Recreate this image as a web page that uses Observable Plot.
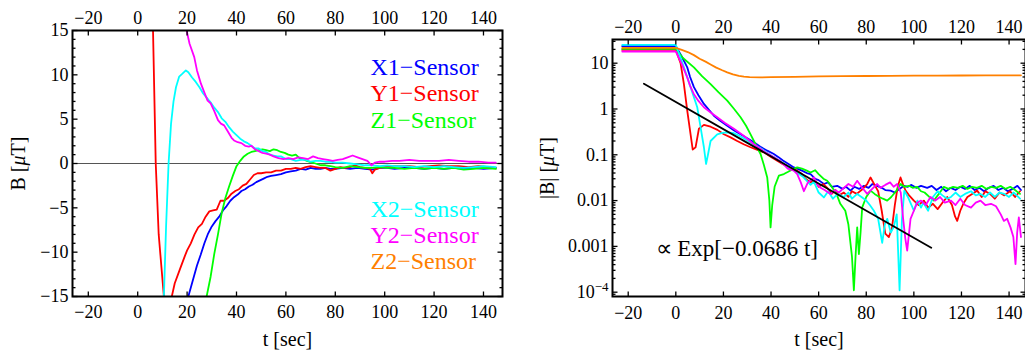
<!DOCTYPE html>
<html><head><meta charset="utf-8">
<script src="https://cdn.jsdelivr.net/npm/d3@7"></script>
<script src="https://cdn.jsdelivr.net/npm/@observablehq/plot@0.6"></script>
<style>
body{margin:0;background:#fff;}
#wrap{display:flex;width:1025px;height:352px;overflow:hidden;}
#wrap svg{display:block;flex:none;}
</style></head><body><div id="wrap"></div>
<script>
// ---------- categories / labels ----------
const sensors = ["X1−Sensor","Y1−Sensor","Z1−Sensor","X2−Sensor","Y2−Sensor","Z2−Sensor"];
const sensorColors = ["#0000ff","#ff0000","#00ff00","#00ffff","#ff00ff","#ff8000"];
const xTicks = [-20,0,20,40,60,80,100,120,140];
const bTicks = [-15,-10,-5,0,5,10,15];
const bMinorTicks = [-14,-13,-12,-11,-9,-8,-7,-6,-4,-3,-2,-1,1,2,3,4,6,7,8,9,11,12,13,14];
const absTicks = [0.0001,0.001,0.01,0.1,1,10];
const absTickLabels = ["10^-4","0.001","0.01","0.1","1","10"];
const absMinorTicks = [0.00009,0.0002,0.0003,0.0004,0.0005,0.0006,0.0007,0.0008,0.0009,
  0.002,0.003,0.004,0.005,0.006,0.007,0.008,0.009,0.02,0.03,0.04,0.05,0.06,0.07,0.08,0.09,
  0.2,0.3,0.4,0.5,0.6,0.7,0.8,0.9,2,3,4,5,6,7,8,9,20,30];
const fitLabel = "∝ Exp[−0.0686 t]";

// ---------- left panel: B [μT] vs t ----------
const leftX1 = [[-22.5,-23.5],[0,-23.5],[5,-22],[10,-21],[15,-19],[20,-15.5],[21,-14.5],[22.5,-13],[24,-11.5],[25.5,-10.3],[27,-9],[28.5,-7.9],[30,-7.1],[31.5,-6.5],[33,-6],[34.5,-5.3],[36,-4.8],[37.5,-4.2],[39,-3.8],[40.5,-3.5],[42,-3.1],[43.5,-2.9],[45,-2.6],[46.5,-2.4],[48,-2.1],[49.5,-1.9],[51,-1.7],[52.5,-1.5],[54,-1.4],[56,-1.3],[58,-1.2],[60,-1.0],[62,-0.9],[64,-0.8],[66,-0.6],[68,-0.7],[70,-0.5],[72,-0.6],[74,-0.6],[76,-0.5],[78,-0.6],[80,-0.6],[83,-0.5],[86,-0.6],[89,-0.5],[92,-0.6],[95,-0.7],[98,-0.5],[101,-0.5],[104,-0.6],[108,-0.5],[112,-0.5],[116,-0.6],[120,-0.5],[124,-0.6],[128,-0.5],[132,-0.6],[136,-0.5],[140,-0.6],[145,-0.5]];
const leftY1 = [[-22.5,19.5],[0,19.5],[4,19],[5.5,17],[6.2,15],[7.3,0],[8.5,-8],[10.6,-15],[11.8,-17.5],[12.8,-17],[13.8,-15],[15,-13.5],[17,-12],[19,-10.5],[20,-9.8],[21.5,-9],[23,-8],[24.5,-7.2],[26,-6.8],[27.5,-6],[29,-5.4],[30.5,-5.3],[32,-5.2],[33.5,-4.2],[35,-4.2],[36.5,-3.9],[38,-3.4],[39.5,-3.1],[41,-2.9],[42.5,-2.5],[44,-2.3],[45.5,-1.8],[47,-1.3],[48.5,-1.1],[50,-1.1],[52,-1.0],[54,-1.0],[56,-0.8],[58,-0.8],[60,-0.6],[62,-0.6],[64,-0.5],[66,-0.6],[68,-0.4],[70,-0.3],[72,-0.4],[74,-0.5],[76,-0.5],[78,-0.8],[80,-0.6],[82,-0.4],[84,-0.5],[86,-0.4],[88,-0.2],[90,-0.4],[92,-0.5],[94,-0.6],[95,-1.1],[96,-0.7],[98,-0.5],[100,-0.4],[103,-0.3],[106,-0.3],[110,-0.3],[114,-0.4],[118,-0.3],[122,-0.2],[126,-0.3],[130,-0.3],[134,-0.4],[138,-0.3],[142,-0.4],[145,-0.5]];
const leftZ1 = [[-22.5,-20.5],[0,-20.5],[10,-19.5],[20,-18],[26,-16.5],[27.9,-15],[29.5,-12.8],[31,-10.2],[32.5,-8],[34,-5.6],[35.5,-3.9],[37,-2.6],[38.5,-1.4],[40,-0.3],[41.5,0.3],[43,0.8],[44.5,1.1],[46,1.3],[47.5,1.4],[49,1.5],[50.5,1.6],[52,1.5],[53.5,1.4],[55,1.6],[56.5,1.5],[58,1.3],[59.5,1.2],[61,1.0],[62.5,0.9],[64,1.0],[65.5,0.6],[67,0.5],[68.5,0.3],[70,0.15],[72,0.0],[74,-0.2],[76,-0.2],[78,-0.3],[80,-0.4],[83,-0.5],[86,-0.3],[89,-0.4],[92,-0.5],[95,-0.5],[98,-0.4],[101,-0.5],[104,-0.5],[108,-0.6],[112,-0.5],[116,-0.6],[120,-0.5],[124,-0.6],[128,-0.5],[132,-0.7],[136,-0.6],[140,-0.5],[145,-0.6]];
const leftX2 = [[-22.5,-25],[0,-25],[5,-24],[9,-22],[10.6,-15],[11.5,-7],[12.5,0],[13.5,4.5],[14.5,7],[15.5,8.6],[16.8,9.8],[18,10.1],[19.5,10.5],[20.5,10.3],[22,9.7],[23.5,9.2],[25,8.6],[26.5,7.9],[28,7.4],[29.5,6.9],[31,6.3],[32.5,5.8],[34,5.1],[35.5,4.7],[37,4.1],[38.5,3.6],[40,3.2],[41.5,2.8],[43,2.5],[44.5,2.3],[46,2.0],[47.5,1.7],[49,1.7],[50.5,1.4],[52,1.3],[53.5,1.0],[55,0.9],[56.5,0.8],[58,0.8],[60,0.5],[62,0.5],[64,0.3],[66,0.4],[68,0.4],[70,0.2],[72,0.3],[74,0.3],[76,0.2],[78,0.2],[80,0.1],[83,0.1],[86,0.0],[89,-0.1],[92,-0.2],[95,-0.2],[98,-0.3],[101,-0.2],[104,-0.3],[108,-0.3],[112,-0.4],[116,-0.3],[120,-0.4],[124,-0.3],[128,-0.4],[132,-0.5],[136,-0.4],[140,-0.3],[145,-0.4]];
const leftY2 = [[-22.5,18],[0,18],[10,17.5],[17,16.5],[19.8,15],[21,13.5],[22.9,12],[24,10.5],[25.6,9],[27,8],[28.3,7.1],[29.5,6.8],[31,5.9],[32.5,4.9],[33.7,4.5],[35,4.3],[36.5,3.6],[38,2.9],[39,2.6],[40.5,2.4],[42,2.3],[43.5,2.0],[45,1.9],[46,2.0],[47.5,1.6],[49,1.4],[50.5,1.2],[52,1.1],[53.5,1.0],[55,0.8],[57,0.6],[59,0.5],[61,0.6],[63,0.5],[65,0.7],[67,0.6],[69,0.5],[71,0.8],[73,0.6],[75,0.5],[77,0.4],[79,0.3],[81,0.4],[83,0.5],[85,0.7],[87,0.9],[89,0.7],[91,0.5],[93,0.3],[94.7,-0.2],[96,0.1],[98,0.2],[100,0.2],[103,0.3],[106,0.3],[110,0.4],[114,0.3],[118,0.3],[122,0.3],[126,0.4],[130,0.3],[134,0.2],[138,0.2],[142,0.1],[145,0.1]];

// ---------- right panel: |B| [μT] vs t (log) ----------
const rightX1 = [[-22.5,23.5],[0,23.5],[2.5,14],[4.8,8.1],[6,5],[7.6,3.0],[9.5,2],[11.8,1.29],[14,0.95],[16,0.71],[18.5,0.56],[21.6,0.43],[24.5,0.34],[27.2,0.28],[30,0.23],[32.8,0.187],[35.5,0.15],[38.4,0.123],[41,0.105],[43,0.09],[45,0.075],[47.5,0.062],[49.6,0.053],[51,0.05],[53,0.045],[55,0.04],[56.6,0.038],[58.5,0.03],[60,0.028],[62.2,0.023],[64,0.025],[65.5,0.02],[67.8,0.021],[70,0.018],[71.5,0.02],[73.4,0.0165],[75,0.02],[77,0.018],[79,0.021],[81,0.019],[82.5,0.023],[84.6,0.021],[86.5,0.019],[88,0.017],[90.2,0.0165],[92,0.015],[94,0.018],[95.8,0.021],[97.5,0.02],[99,0.022],[101,0.019],[103,0.021],[105.6,0.019],[107.5,0.021],[109.5,0.017],[111.5,0.02],[113.5,0.016],[115.5,0.019],[117.5,0.017],[119.5,0.02],[121.5,0.018],[123.5,0.021],[125.5,0.017],[127.5,0.019],[129.5,0.016],[131.5,0.019],[133.5,0.021],[135.5,0.017],[137.5,0.019],[139.5,0.016],[141.5,0.018],[143.5,0.021],[145,0.017]];
const rightY1 = [[-22.5,19.5],[0,19.5],[2,10],[3.4,3.5],[4.8,0.92],[6.2,0.28],[7.1,0.13],[8.3,0.145],[9.7,0.37],[11.8,0.45],[14.6,0.41],[17.5,0.35],[20.2,0.28],[23,0.24],[25.8,0.2],[28.5,0.17],[31.4,0.146],[34,0.13],[37,0.113],[40,0.09],[42.6,0.074],[45,0.062],[48,0.052],[51,0.045],[53,0.038],[54.5,0.03],[56.6,0.025],[58.5,0.028],[60,0.02],[62,0.023],[63.6,0.019],[65.5,0.014],[67,0.017],[68.5,0.013],[70.6,0.015],[72.5,0.012],[74,0.016],[76,0.014],[78,0.017],[80.4,0.023],[81.8,0.032],[83.5,0.022],[85,0.016],[86.5,0.006],[88,0.0019],[89.5,0.0016],[90.8,0.0025],[92,0.008],[93.2,0.02],[94.4,0.032],[95.5,0.022],[96.5,0.0166],[98,0.013],[100,0.01],[102,0.008],[104.2,0.01],[106,0.007],[108,0.0085],[110,0.0065],[112,0.009],[114,0.012],[116,0.008],[117.3,0.0045],[118.2,0.0036],[119.5,0.006],[121,0.009],[122.5,0.012],[124.5,0.014],[126.6,0.0165],[128.5,0.012],[130,0.016],[132,0.014],[134,0.011],[136,0.015],[138,0.013],[140.4,0.016],[142.5,0.012],[144.6,0.016]];
const rightZ1 = [[-22.5,20.5],[0,20.5],[3,13],[7.6,8.1],[11,5.2],[14.6,3.5],[18,2.3],[21.6,1.52],[24.5,1.0],[27.2,0.66],[29.5,0.43],[31.4,0.28],[33.5,0.17],[35.6,0.104],[37,0.06],[38.4,0.032],[39.3,0.01],[39.8,0.0026],[40.5,0.008],[41.5,0.02],[43.3,0.035],[45.4,0.038],[47,0.042],[49,0.048],[51,0.053],[53,0.05],[55,0.045],[56.6,0.041],[58.5,0.046],[60,0.038],[62,0.03],[63.6,0.027],[65.5,0.02],[67.5,0.014],[69.1,0.0085],[71.2,0.006],[72.5,0.003],[74,0.0006],[74.8,0.00011],[75.5,0.0006],[76.2,0.0026],[76.9,0.00068],[77.6,0.002],[78.3,0.0071],[80,0.012],[81.8,0.0165],[83.5,0.014],[85.5,0.012],[87,0.011],[88.8,0.01],[90.5,0.012],[92.5,0.016],[94.4,0.023],[96,0.02],[98,0.021],[99.5,0.019],[101.4,0.02],[103,0.016],[104.5,0.015],[106.5,0.012],[108.4,0.01],[110.5,0.014],[112.6,0.02],[114.5,0.018],[116.5,0.02],[118.5,0.019],[120.5,0.021],[122.5,0.018],[124.5,0.02],[126.5,0.019],[128.5,0.021],[130.5,0.018],[132.5,0.02],[134.5,0.019],[136.5,0.021],[138.5,0.018],[140.5,0.02],[142.5,0.017],[144.6,0.014]];
const rightX2 = [[-22.5,25],[0,25],[1.8,14],[3.4,8.1],[6.2,3.0],[9.0,1.09],[10.4,0.4],[11.8,0.146],[12.7,0.063],[13.5,0.1],[14.6,0.2],[17.4,0.28],[19.5,0.3],[21.6,0.31],[24,0.3],[26,0.27],[28.5,0.23],[31,0.19],[33.5,0.16],[36,0.135],[38.5,0.11],[41,0.09],[43.5,0.075],[46,0.06],[48.5,0.05],[51,0.04],[53.5,0.033],[56.6,0.022],[58,0.026],[60,0.015],[62.2,0.0117],[64,0.016],[66,0.011],[68,0.014],[70.6,0.012],[72.5,0.015],[74,0.011],[76.2,0.014],[78,0.012],[80,0.01],[81.5,0.008],[83.2,0.006],[85,0.004],[86.7,0.0012],[87.8,0.003],[88.8,0.004],[90.3,0.002],[91.6,0.0027],[92.8,0.005],[94,0.00011],[95,0.004],[96,0.0165],[97.5,0.012],[99,0.008],[100,0.006],[101.5,0.01],[103,0.007],[104,0.009],[106,0.006],[108,0.012],[110,0.016],[112,0.013],[114,0.011],[115.6,0.012],[117.5,0.015],[119.5,0.012],[121.5,0.014],[124,0.016],[126,0.013],[128,0.014],[130,0.012],[132,0.015],[134,0.012],[136,0.015],[138,0.014],[140,0.012],[142,0.015],[144.6,0.011]];
const rightY2 = [[-22.5,18],[0,18],[2.5,9.5],[4.8,4.9],[6,3.2],[7.6,2.1],[9.5,1.5],[11.8,1.09],[14.5,0.85],[17.4,0.66],[20.5,0.5],[24.4,0.37],[28.5,0.26],[32.8,0.17],[36,0.13],[38,0.11],[41.2,0.088],[43.5,0.075],[45.5,0.06],[47,0.05],[49.6,0.045],[51,0.038],[52.5,0.025],[53.8,0.016],[55.5,0.025],[58,0.032],[59.5,0.022],[60.8,0.019],[62.5,0.017],[65,0.014],[67,0.017],[68.5,0.015],[70.6,0.019],[72.5,0.023],[74.5,0.02],[76.2,0.027],[78,0.02],[80.4,0.014],[82.5,0.018],[84.6,0.023],[86,0.019],[88,0.022],[90,0.025],[91.5,0.02],[93,0.023],[94.5,0.015],[95.5,0.004],[96.4,0.0015],[97.2,0.00081],[98.6,0.004],[100,0.006],[101.4,0.009],[103,0.01],[105,0.008],[107,0.012],[109,0.01],[111,0.012],[113,0.009],[115.6,0.01],[117.5,0.008],[119.5,0.011],[121.5,0.008],[124,0.007],[126,0.009],[128,0.01],[130,0.008],[132.4,0.0085],[134.5,0.0075],[136.5,0.005],[137.8,0.0036],[139.2,0.004],[140.6,0.0026],[141.8,0.0016],[142.7,0.00041],[143.4,0.002],[144.1,0.0043],[145,0.0016]];
const rightZ2 = [[-22.5,21.5],[0,21.5],[2.5,19.5],[5,17.5],[7.6,15],[10,12.5],[12.5,10.8],[14.6,9.4],[17,8],[19.5,7],[21.6,6.3],[24,5.7],[26.5,5.3],[28.6,5.1],[31,4.95],[35.6,4.9],[40,4.95],[50,5.05],[60,5.15],[70,5.2],[80,5.25],[90,5.3],[100,5.33],[110,5.36],[120,5.38],[130,5.4],[145,5.42]];
const fitLine = [[-13.4,3.55],[107.3,0.00093]];

// ---------- build tidy tables ----------
const leftSeries = [leftX1,leftY1,leftZ1,leftX2,leftY2];
const rightSeries = [rightX1,rightY1,rightZ1,rightX2,rightY2,rightZ2];
const leftTable = leftSeries.flatMap((s,i)=>s.map(([t,v])=>({sensor:sensors[i],t,v})));
const rightTable = rightSeries.flatMap((s,i)=>s.map(([t,v])=>({sensor:sensors[i],t,v})));

const FONT = "'Liberation Serif','Times New Roman',serif";
const tickShape = {draw(ctx,l){ctx.moveTo(0,0);ctx.lineTo(0,-l);}};
const tickOpts = {anchor:"start", shape:tickShape, stroke:"black", fill:"none", strokeWidth:1.3, strokeLinecap:"butt"};
function ticksX(values,len){return [
  Plot.vector(values,{...tickOpts,x:d=>d,frameAnchor:"bottom",length:len,rotate:0}),
  Plot.vector(values,{...tickOpts,x:d=>d,frameAnchor:"top",length:len,rotate:180})];}
function ticksY(values,len){return [
  Plot.vector(values,{...tickOpts,y:d=>d,frameAnchor:"left",length:len,rotate:90}),
  Plot.vector(values,{...tickOpts,y:d=>d,frameAnchor:"right",length:len,rotate:-90})];}
const color = {domain:sensors, range:sensorColors};

const legendDy = [37,63,90,179,205,231];

const left = Plot.plot({
  width:512, height:352, marginLeft:72, marginRight:10, marginTop:30, marginBottom:56,
  style:{fontFamily:FONT, fontSize:"18px", color:"black", background:"white", overflow:"visible"},
  x:{domain:[-26.4,147.7], label:null},
  y:{domain:[-15,15], label:null},
  color,
  marks:[
    Plot.ruleY([0],{stroke:"#555",strokeWidth:1}),
    Plot.line(leftTable,{x:"t",y:"v",z:"sensor",stroke:"sensor",strokeWidth:1.8,clip:true}),
    Plot.frame({stroke:"black",strokeWidth:2}),
    ...ticksX(xTicks,5),
    ...ticksY(bTicks,5),
    ...ticksY(bMinorTicks,3),
    Plot.axisX(xTicks,{anchor:"bottom",tickSize:0,tickPadding:9,label:null}),
    Plot.axisX(xTicks,{anchor:"top",tickSize:0,tickPadding:7,label:null}),
    Plot.axisY(bTicks,{anchor:"left",tickSize:0,tickPadding:4,label:null}),
    Plot.text(["t [sec]"],{frameAnchor:"bottom",textAnchor:"middle",lineAnchor:"middle",dy:43,fontSize:20}),
    Plot.text(["B [μT]"],{frameAnchor:"left",textAnchor:"middle",lineAnchor:"middle",dx:-54,rotate:-90,fontSize:20}),
    ...sensors.map((s,i)=>Plot.text([s],{frameAnchor:"top-left",textAnchor:"start",lineAnchor:"middle",dx:298,dy:legendDy[i],fill:sensorColors[i],fontSize:24}))
  ]
});

const right = Plot.plot({
  width:513, height:352, marginLeft:100, marginRight:0, marginTop:39, marginBottom:56,
  style:{fontFamily:FONT, fontSize:"18px", color:"black", background:"white"},
  x:{domain:[-26.6,146.9], label:null},
  y:{type:"log", domain:[8.05e-5,32.9], label:null},
  color,
  marks:[
    Plot.line(rightTable,{x:"t",y:"v",z:"sensor",stroke:"sensor",strokeWidth:1.8,clip:true}),
    Plot.line(fitLine,{stroke:"black",strokeWidth:1.8,clip:true}),
    Plot.frame({stroke:"black",strokeWidth:2}),
    ...ticksX(xTicks,5),
    ...ticksY(absTicks,5),
    ...ticksY(absMinorTicks,3),
    Plot.axisX(xTicks,{anchor:"bottom",tickSize:0,tickPadding:10,label:null}),
    Plot.axisX(xTicks,{anchor:"top",tickSize:0,tickPadding:7,label:null}),
    Plot.axisY(absTicks,{anchor:"left",tickSize:0,tickPadding:4,label:null,tickFormat:d=>absTickLabels[absTicks.indexOf(d)]}),
    Plot.text(["t [sec]"],{frameAnchor:"bottom",textAnchor:"middle",lineAnchor:"middle",dy:43,fontSize:20}),
    Plot.text(["|B| [μT]"],{frameAnchor:"left",textAnchor:"middle",lineAnchor:"middle",dx:-65,rotate:-90,fontSize:20}),
    Plot.text([fitLabel],{frameAnchor:"top-left",textAnchor:"start",lineAnchor:"middle",dx:43,dy:209,fontSize:23})
  ]
});

const wrap = document.getElementById("wrap");
wrap.appendChild(left);
wrap.appendChild(right);
// typographic touches: italic μ, superscript exponent
for (const svg of [left,right]) {
  svg.querySelectorAll("text").forEach(t=>{
    if (t.children.length===0 && t.textContent.includes("μ")) {
      t.innerHTML = t.textContent.replace("μ",'<tspan font-style="italic">μ</tspan>');
    }
    if (t.children.length===0 && t.textContent==="10^-4") {
      t.innerHTML = '10<tspan dy="-0.5em" font-size="13">−4</tspan>';
    }
  });
}
</script></body></html>
